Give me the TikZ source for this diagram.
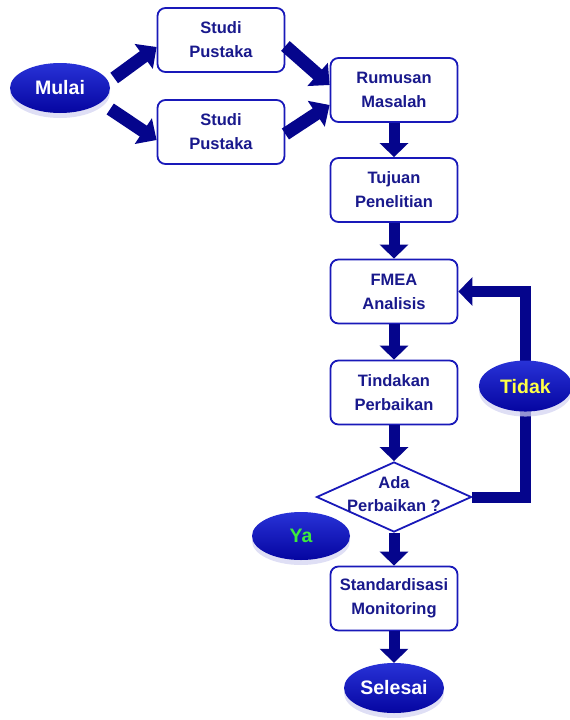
\documentclass[tikz,border=0pt]{standalone}
\usepackage{fontspec}
\setmainfont{Liberation Sans}
\usetikzlibrary{arrows.meta,shapes.geometric,shadows}
\definecolor{tua}{RGB}{5,5,140}
\definecolor{garis}{RGB}{25,25,185}
\definecolor{teks}{RGB}{25,25,140}
\definecolor{atas}{RGB}{40,50,215}
\definecolor{bawah}{RGB}{5,5,160}
\definecolor{ijo}{RGB}{60,235,60}
\definecolor{kuning}{RGB}{255,255,70}

\begin{document}
\begin{tikzpicture}[x=1pt, y=-1pt,
  kotak/.style={draw=garis, line width=1.8pt, rounded corners=8pt, fill=white, text=teks,
    font=\bfseries\fontsize{16.5}{24}\selectfont, align=center,
    minimum width=127pt, minimum height=64pt, inner sep=1pt},
  romb/.style={diamond, draw=garis, line width=1.8pt, fill=white, inner sep=0pt,
    minimum width=155pt, minimum height=70pt},
  bulat/.style={ellipse, inner sep=0pt, top color=atas, bottom color=bawah, text=white,
    font=\bfseries\fontsize{19.5}{20}\selectfont, minimum width=100pt, minimum height=50pt,
    drop shadow={shadow xshift=0pt, shadow yshift=-5pt, fill=garis!20, opacity=0.7}},
  panah/.style={draw=tua, line width=11pt, -{Triangle[length=14pt, width=28pt]}},
  miring/.style={panah, line width=13pt, -{Triangle[length=16pt, width=30pt]}}]
\useasboundingbox (0,0) rectangle (570,720);

\node[bulat] (mulai) at (60,88) {Mulai};
\node[kotak] (studiA) at (221,40) {Studi\\Pustaka};
\node[kotak] (studiB) at (221,132) {Studi\\Pustaka};
\node[kotak] (rumusan) at (394,90) {Rumusan\\Masalah};
\node[kotak] (tujuan) at (394,190) {Tujuan\\Penelitian};
\node[kotak] (fmea) at (394,291.5) {FMEA\\Analisis};
\node[kotak] (tindakan) at (394,392.5) {Tindakan\\Perbaikan};
\node[romb] (cek) at (394,497) {};
\node[text=teks, font=\bfseries\fontsize{16.5}{23}\selectfont, align=center] (tanya) at (394,494) {Ada\\Perbaikan ?};
\node[bulat, text=ijo, minimum width=98pt, minimum height=48pt] (ya) at (301,536) {Ya};
\node[kotak] (standar) at (394,598.5) {Standardisasi\\Monitoring};
\node[bulat] (selesai) at (394,688) {Selesai};

\draw[miring] ([xshift=4pt, yshift=10pt]mulai.east) -- ([yshift=-7pt]studiA.west);
\draw[miring] ([xshift=0pt, yshift=-21pt]mulai.east) -- ([yshift=-8pt]studiB.west);
\draw[miring] ([yshift=-6pt]studiA.east) -- ([yshift=5pt]rumusan.west);
\draw[miring] ([yshift=-2pt]studiB.east) -- ([yshift=-15pt]rumusan.west);
\foreach \a/\b in {rumusan/tujuan, tujuan/fmea, fmea/tindakan, tindakan/cek, cek/standar, standar/selesai}
  \draw[panah] (\a.south) -- (\b.north);
\draw[panah] (cek.east) -- ++(53,0) |- (fmea.east)
  node[bulat, text=kuning, pos=0.27, minimum width=93pt, minimum height=51pt] (tidak) {Tidak};
\end{tikzpicture}
\end{document}
